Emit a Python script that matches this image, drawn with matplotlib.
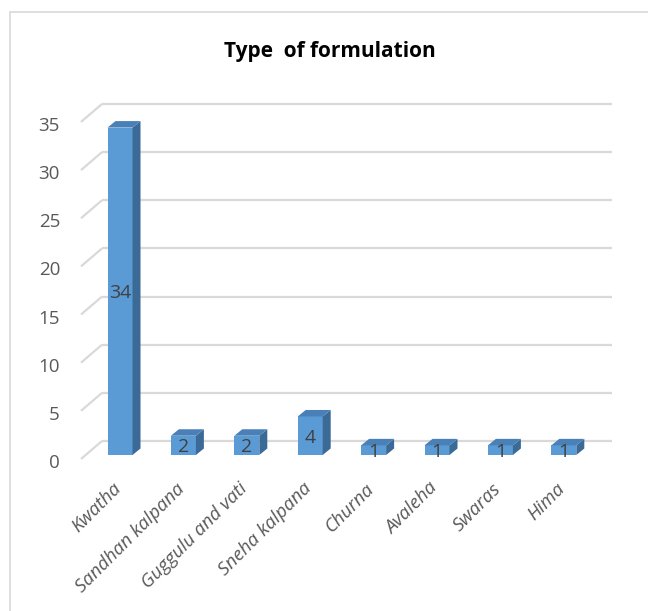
"""
Type of formulation - 3D style column chart
"""
import numpy as np
import matplotlib as mpl
import matplotlib.pyplot as plt
from matplotlib.patches import Polygon, Rectangle

mpl.rc('font', family=['Open Sans', 'DejaVu Sans'])

categories = ["Kwatha", "Sandhan kalpana", "Guggulu and vati", "Sneha kalpana",
              "Churna", "Avaleha", "Swaras", "Hima"]
counts = [34, 2, 2, 4, 1, 1, 1, 1]
yticks = [0, 5, 10, 15, 20, 25, 30, 35]

front_c = '#5B9BD5'
side_c = '#3B6A96'
top_c = '#4A80B8'
grid_c = '#D9D9D9'
text_c = '#595959'

W, H = 648, 611
fig = plt.figure(figsize=(W / 100, H / 100), dpi=100)

# axes laid out in pixels: category step 63.4 px, 9.63 px per unit
px_x, px_y = 63.4, 9.63
x0_px, y0_px = 120, 455          # centre of first bar, base of bars (from top)
left_px, right_px = 0, W
ax = fig.add_axes([0, 0, 1, 1])
ax.set_xlim((left_px - x0_px) / px_x, (right_px - x0_px) / px_x)
ax.set_ylim(-(H - y0_px) / px_y, y0_px / px_y)
ax.axis('off')

# depth of the floor / side wall and of the bars, in data units
wall_dx, wall_dy = 21 / px_x, 18 / px_y
front_x = (81 - x0_px) / px_x
front_dy = -4 / px_y
back_end = (612 - x0_px) / px_x
bar_w = 25 / px_x
bar_dx, bar_dy = 8 / px_x, 6.5 / px_y

# gridlines: diagonal on side wall + back wall line
for v in yticks:
    yf = v + front_dy
    ax.plot([front_x, front_x + wall_dx], [yf, yf + wall_dy], color=grid_c, lw=1.6,
            solid_capstyle='butt', zorder=1)
    ax.plot([front_x + wall_dx, back_end], [yf + wall_dy, yf + wall_dy], color=grid_c,
            lw=1.6, solid_capstyle='butt', zorder=1)
    ax.text((60 - x0_px) / px_x, v - 0.83, str(v), ha='right', va='center',
            fontsize=13.5, color=text_c)

# bars: front face, right side face, top face
x = np.arange(len(categories))
ax.bar(x, counts, width=bar_w, color=front_c, edgecolor='none', zorder=3)
for xi, v in zip(x, counts):
    r = xi + bar_w / 2
    l = xi - bar_w / 2
    side = Polygon([(r, 0), (r + bar_dx, bar_dy), (r + bar_dx, v + bar_dy), (r, v)],
                   closed=True, facecolor=side_c, edgecolor='none', zorder=3)
    top = Polygon([(l, v), (r, v), (r + bar_dx, v + bar_dy), (l + bar_dx, v + bar_dy)],
                  closed=True, facecolor=top_c, edgecolor='none', zorder=3)
    ax.add_patch(side)
    ax.add_patch(top)
    ax.text(xi, v / 2 - 0.2, str(v), ha='center', va='center', fontsize=14,
            color='#404040', zorder=4)

# category labels, rotated 45 degrees
for xi, name in zip(x, categories):
    ax.text(xi - 0.03, -3.2, name, rotation=45, rotation_mode='anchor',
            ha='right', va='center', fontsize=13.5, style='italic', color=text_c)

ax.text((330 - x0_px) / px_x, (y0_px - 51) / px_y, "Type  of formulation",
        ha='center', va='center', fontsize=15, fontweight='bold', color='black')

# chart border
fig.patches.append(Rectangle((10 / W, -0.1), 1.2, 1 - 12 / H + 0.1,
                             transform=fig.transFigure, fill=False,
                             edgecolor=grid_c, lw=1.2))

plt.savefig("out.png", dpi=100)
